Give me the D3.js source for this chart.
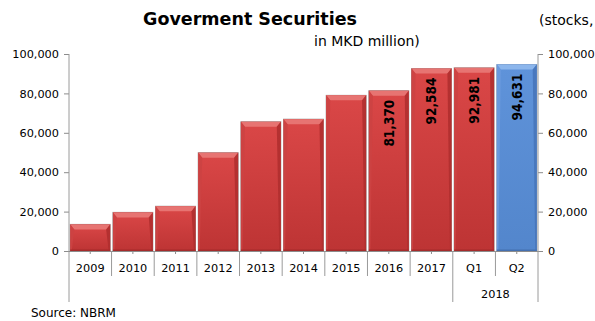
<!DOCTYPE html>
<html>
<head>
<meta charset="utf-8">
<script src="https://cdn.jsdelivr.net/npm/d3@7/dist/d3.min.js"></script>
<style>
  html, body { margin: 0; padding: 0; background: #ffffff; }
  svg { display: block; }
  text { font-family: "DejaVu Sans", sans-serif; fill: #000; }
</style>
</head>
<body>
<svg id="chart" width="595" height="321"></svg>
<script>
// Government securities stock, in MKD million
const categories = ["2009", "2010", "2011", "2012", "2013", "2014", "2015", "2016", "2017", "Q1", "Q2"];
const values = [13500, 19600, 22700, 49900, 65600, 66900, 79000, 81370, 92584, 92981, 94631];
const labelled = ["2016", "2017", "Q1", "Q2"];
const highlight = ["Q2"];
const groups = [{ label: "2018", from: "Q1", to: "Q2" }];
const yTicks = [0, 20000, 40000, 60000, 80000, 100000];

const svg = d3.select("#chart");
const plotLeft = 69, plotRight = 538, plotTop = 54, plotBottom = 251;
const tickFont = "\"DejaVu Sans\", sans-serif";

const x = d3.scaleBand().domain(categories).range([plotLeft, plotRight]).paddingInner(0.065).paddingOuter(0.03);
const y = d3.scaleLinear().domain([0, 100000]).range([plotBottom, plotTop]);
const fmt = d3.format(",");

// gradients for the bevelled bars
const defs = svg.append("defs");
function faceGradient(id, c1, c2) {
  const g = defs.append("linearGradient").attr("id", id).attr("x1", 0).attr("y1", 0).attr("x2", 0).attr("y2", 1);
  g.append("stop").attr("offset", "0%").attr("stop-color", c1);
  g.append("stop").attr("offset", "100%").attr("stop-color", c2);
}
faceGradient("redFace", "#da4747", "#bd3434");
faceGradient("blueFace", "#5f93da", "#5386cc");

const palette = {
  red:  { face: "url(#redFace)", topBevel: "#e77472", sideL: "#cc4242", sideR: "#b02f2f", bottom: "#a52b2b", edge: "#9a9a9a" },
  blue: { face: "url(#blueFace)", topBevel: "#8cb6ec", sideL: "#6a9ade", sideR: "#4776ba", bottom: "#4470b0", edge: "#8a9ab0" }
};

const bev = 4;
const bars = svg.append("g").selectAll("g").data(categories).join("g");
bars.each(function (c, i) {
  const g = d3.select(this);
  const p = highlight.includes(c) ? palette.blue : palette.red;
  const x0 = x(c), x1 = x(c) + x.bandwidth();
  const y0 = y(values[i]), y1 = y(0);
  g.append("rect").attr("x", x0 - 0.5).attr("y", y0 - 0.5).attr("width", x1 - x0 + 1).attr("height", y1 - y0 + 0.5)
    .attr("fill", p.edge);
  g.append("rect").attr("x", x0).attr("y", y0).attr("width", x1 - x0).attr("height", y1 - y0).attr("fill", p.face);
  // top bevel
  g.append("polygon").attr("points", [[x0, y0], [x1, y0], [x1 - bev, y0 + bev + 1], [x0 + bev, y0 + bev + 1]].join(" "))
    .attr("fill", p.topBevel);
  // side bevels
  g.append("polygon").attr("points", [[x0, y0], [x0 + bev, y0 + bev + 1], [x0 + 1.5, y1], [x0, y1]].join(" "))
    .attr("fill", p.sideL).attr("opacity", 0.9);
  g.append("polygon").attr("points", [[x1, y0], [x1 - bev, y0 + bev + 1], [x1 - 1.5, y1], [x1, y1]].join(" "))
    .attr("fill", p.sideR).attr("opacity", 0.9);
  g.append("rect").attr("x", x0).attr("y", y1 - 1.5).attr("width", x1 - x0).attr("height", 1.5).attr("fill", p.bottom);
});

// value labels inside the tallest bars
svg.append("g").selectAll("text").data(categories.filter(c => labelled.includes(c))).join("text")
  .attr("transform", c => `translate(${x(c) + x.bandwidth() / 2},${y(values[categories.indexOf(c)]) + 9}) rotate(-90)`)
  .attr("text-anchor", "end").attr("dy", "0.36em")
  .style("font-family", "\"DejaVu Sans Condensed\", \"DejaVu Sans\", sans-serif")
  .style("font-size", "13.5px").style("font-weight", "bold")
  .text(c => fmt(values[categories.indexOf(c)]));

// left value axis
const yAxisL = d3.axisLeft(y).tickValues(yTicks).tickFormat(fmt).tickSize(5).tickPadding(5);
const gL = svg.append("g").attr("transform", `translate(${plotLeft},0)`).call(yAxisL);
// right value axis
const yAxisR = d3.axisRight(y).tickValues(yTicks).tickFormat(fmt).tickSize(5).tickPadding(5);
const gR = svg.append("g").attr("transform", `translate(${plotRight},0)`).call(yAxisR);
[gL, gR].forEach(g => {
  g.select(".domain").remove();
  g.selectAll(".tick line").attr("stroke", "#8c8c8c");
  g.selectAll(".tick text").style("font-size", "11.3px").style("font-family", tickFont).attr("fill", "#000");
});
const lineCol = "#9a9a9a";
svg.append("line").attr("x1", plotLeft).attr("x2", plotLeft).attr("y1", plotTop).attr("y2", 302).attr("stroke", lineCol);
svg.append("line").attr("x1", plotRight).attr("x2", plotRight).attr("y1", plotTop).attr("y2", plotBottom).attr("stroke", lineCol);

// category axis
const xAxis = d3.axisBottom(x).tickSize(3).tickPadding(10);
const gX = svg.append("g").attr("transform", `translate(0,${plotBottom})`).call(xAxis);
gX.select(".domain").remove();
gX.selectAll(".tick line").attr("stroke", "#8c8c8c");
gX.selectAll(".tick text").style("font-size", "11.3px").style("font-family", tickFont).attr("fill", "#000");
svg.append("line").attr("x1", plotLeft).attr("x2", plotRight).attr("y1", plotBottom + 0.5).attr("y2", plotBottom + 0.5).attr("stroke", "#8c8c8c");

// separators between categories
const step = x.step();
const bounds = categories.slice(1).map(c => x(c) - (step - x.bandwidth()) / 2);
const groupStarts = groups.map(g => x(g.from) - (step - x.bandwidth()) / 2);
svg.append("g").selectAll("line").data(bounds).join("line")
  .attr("x1", d => d).attr("x2", d => d).attr("y1", plotBottom).attr("y2", d => groupStarts.some(s => Math.abs(s - d) < 0.1) ? 302 : 276)
  .attr("stroke", lineCol);
svg.append("line").attr("x1", plotRight).attr("x2", plotRight).attr("y1", plotBottom).attr("y2", 302).attr("stroke", lineCol);

// group labels under the quarters
svg.append("g").selectAll("text").data(groups).join("text")
  .attr("x", g => (x(g.from) + x(g.to) + x.bandwidth()) / 2).attr("y", 298)
  .attr("text-anchor", "middle").style("font-size", "11.3px").text(g => g.label);

// titles
svg.append("text").attr("x", 250).attr("y", 25).attr("text-anchor", "middle")
  .style("font-size", "17.5px").style("font-weight", "bold").text("Goverment Securities");
svg.append("text").attr("x", 539).attr("y", 25).style("font-size", "14px").text("(stocks,");
svg.append("text").attr("x", 314).attr("y", 46).style("font-size", "14px").text("in MKD million)");

svg.append("text").attr("x", 31).attr("y", 317).style("font-size", "12px").text("Source: NBRM");
</script>
</body>
</html>
